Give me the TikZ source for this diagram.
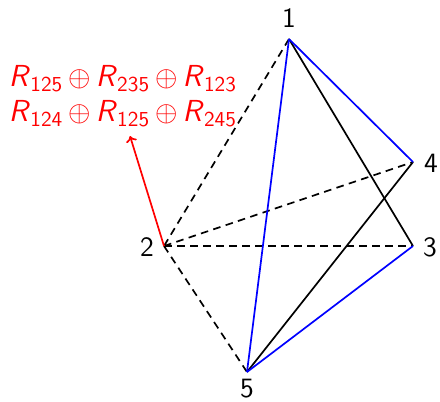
\documentclass[tikz,border=0pt]{standalone}
\usetikzlibrary{arrows.meta}
\newcommand\Rsub[1]{\textit{R}\textsubscript{#1}}
\newcommand\opl{\,$\oplus$\,}
\begin{document}
\begin{tikzpicture}[x=0.5pt,y=-0.5pt,
  every node/.style={font=\fontsize{14}{16}\selectfont\sffamily},
  vtx/.style={inner sep=0pt,minimum size=0pt},
  lbl/.style={inner sep=0pt},
  edge/.style={line width=0.85pt},
  bl/.style={edge,blue},
  bk/.style={edge,black},
  dsh/.style={edge,black,dash pattern=on 3.8pt off 2.7pt},
  redarr/.style={edge,red,-{To[length=3pt,width=5.5pt]}}]
\useasboundingbox (0,0) rectangle (440,402);
\coordinate (v1) at (289,39);
\coordinate (v2) at (164,246);
\coordinate (v3) at (413,246);
\coordinate (v4) at (413,162);
\coordinate (v5) at (247,372);
\node[lbl] (l1) at (289,18) {1};
\node[lbl] (l2) at (147,247) {2};
\node[lbl] (l3) at (430,247) {3};
\node[lbl] (l4) at (431,163) {4};
\node[lbl] (l5) at (247,389) {5};
\node[lbl,red,align=left,font=\fontsize{15.2}{17.5}\selectfont\sffamily] (lab) at (123,96) {\Rsub{125}\opl\Rsub{235}\opl\Rsub{123}\\\Rsub{124}\opl\Rsub{125}\opl\Rsub{245}};
\coordinate (tip) at (130,136);
\draw[dsh] (v1) -- (v2);
\draw[dsh] (v2) -- (v4);
\draw[dsh] (v2) -- (v3);
\draw[dsh] (v2) -- (v5);
\draw[bk] (v1) -- (v3);
\draw[bk] (v5) -- (v4);
\draw[bl] (v1) -- (v4);
\draw[bl] (v1) -- (v5);
\draw[bl] (v5) -- (v3);
\draw[redarr] (v2) -- (tip);
\end{tikzpicture}
\end{document}
